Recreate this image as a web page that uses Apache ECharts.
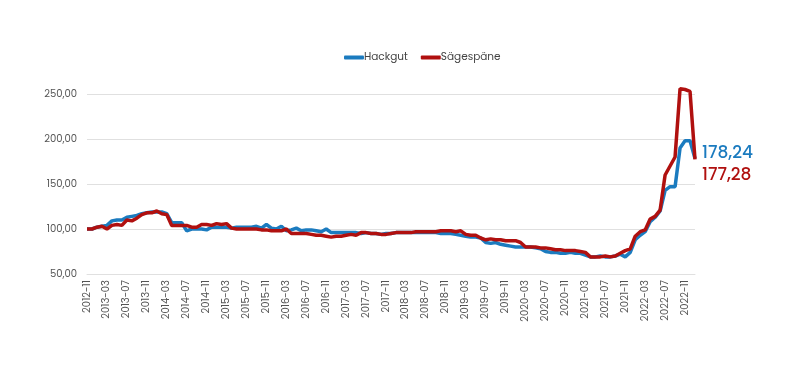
<!DOCTYPE html>
<html>
<head>
<meta charset="utf-8">
<script src="https://cdn.jsdelivr.net/npm/echarts@6/dist/echarts.min.js"></script>
<style>
html,body{margin:0;padding:0;background:#fff;}
#c{width:805px;height:386px;}
</style>
</head>
<body>
<div id="c"></div>
<script>
// Months 2012-11 .. 2023-01
const categories = (function(){
  const out = [];
  let y = 2012, m = 11;
  for (let i = 0; i < 123; i++) {
    out.push(y + '-' + (m < 10 ? '0' + m : '' + m));
    m++; if (m > 12) { m = 1; y++; }
  }
  return out;
})();

const hackgut = [
  100, 100,
  102, 103, 104, 109, 110, 110, 113, 114, 115, 117, 118, 119,
  119, 119, 117, 107, 107, 107, 98, 100, 100, 100, 99, 102,
  102, 102, 102, 101, 102, 102, 102, 102, 103, 101, 105, 101,
  100, 103, 98, 99, 101, 98, 99, 99, 98, 97, 100, 96,
  96, 96, 96, 96, 96, 95, 96, 95, 95, 94, 95, 95,
  96, 96, 96, 96, 96, 96, 96, 96, 96, 95, 95, 95,
  94, 93, 92, 91, 91, 90, 85, 84, 85, 83, 82, 81,
  80, 80, 80, 80, 79, 78, 75, 74, 74, 73, 73, 74,
  73, 73, 71, 69, 69, 70, 69, 69, 70, 72, 69, 74,
  88, 93, 97, 108, 113, 120, 143, 147, 147, 190, 198, 198,
  178.24
];

const saegespaene = [
  100, 100,
  102, 103, 100, 104, 105, 104, 110, 109, 112, 116, 118, 118,
  120, 117, 116, 104, 104, 104, 104, 102, 102, 105, 105, 104,
  106, 105, 106, 101, 100, 100, 100, 100, 100, 99, 99, 98,
  98, 98, 100, 95, 95, 95, 95, 94, 93, 93, 92, 91,
  92, 92, 93, 94, 93, 96, 96, 95, 95, 94, 94, 95,
  96, 96, 96, 96, 97, 97, 97, 97, 97, 98, 98, 98,
  97, 98, 94, 93, 93, 90, 88, 89, 88, 88, 87, 87,
  87, 85, 80, 80, 80, 79, 79, 78, 77, 77, 76, 76,
  76, 75, 74, 69, 69, 69, 70, 69, 70, 73, 76, 78,
  92, 97, 99, 111, 114, 121, 160, 170, 180, 256, 255, 253,
  177.28
];

const yTicks = [50, 100, 150, 200, 250];

const FONT = 'Poppins, Inter, "Open Sans", sans-serif';
const BLUE = '#1b7bbf';
const RED = '#b0100f';
const fmt = v => v.toFixed(2).replace('.', ',');

const chart = echarts.init(document.getElementById('c'), null, {renderer: 'canvas'});
chart.setOption({
  animation: false,
  textStyle: {fontFamily: FONT},
  legend: {
    top: 47,
    left: 339,
    icon: 'roundRect',
    itemWidth: 20,
    itemHeight: 4,
    itemGap: 13,
    textStyle: {fontFamily: FONT, fontSize: 10.5, color: '#444', padding: [0, 0, 0, -5]},
    data: ['Hackgut', 'Sägespäne']
  },
  grid: {left: 87, right: 110, top: 94, bottom: 112, containLabel: false},
  xAxis: {
    type: 'category',
    data: categories,
    boundaryGap: false,
    axisLine: {show: true, lineStyle: {color: '#e0e0e0'}},
    axisTick: {show: false},
    axisLabel: {
      interval: 3,
      rotate: 90,
      fontSize: 10,
      color: '#555',
      fontFamily: FONT,
      margin: 6
    },
    splitLine: {show: false}
  },
  yAxis: {
    type: 'value',
    min: yTicks[0],
    max: yTicks[yTicks.length - 1],
    interval: 50,
    axisLine: {show: false},
    axisTick: {show: false},
    axisLabel: {fontSize: 10, color: '#555', fontFamily: FONT, margin: 10, formatter: fmt},
    splitLine: {lineStyle: {color: '#e0e0e0', width: 1}}
  },
  series: [
    {
      name: 'Hackgut',
      type: 'line',
      data: hackgut,
      symbol: 'none',
      clip: false,
      lineStyle: {color: BLUE, width: 3.5},
      itemStyle: {color: BLUE},
      z: 2,
      endLabel: {
        show: true,
        formatter: p => fmt(p.value),
        color: BLUE,
        fontSize: 17,
        fontWeight: 500,
        fontFamily: FONT,
        distance: 7,
        offset: [0, -5]
      }
    },
    {
      name: 'Sägespäne',
      type: 'line',
      data: saegespaene,
      symbol: 'none',
      clip: false,
      lineStyle: {color: RED, width: 3.5},
      itemStyle: {color: RED},
      z: 3,
      endLabel: {
        show: true,
        formatter: p => fmt(p.value),
        color: RED,
        fontSize: 17,
        fontWeight: 500,
        fontFamily: FONT,
        distance: 7,
        offset: [0, 16]
      }
    }
  ]
});
</script>
</body>
</html>
